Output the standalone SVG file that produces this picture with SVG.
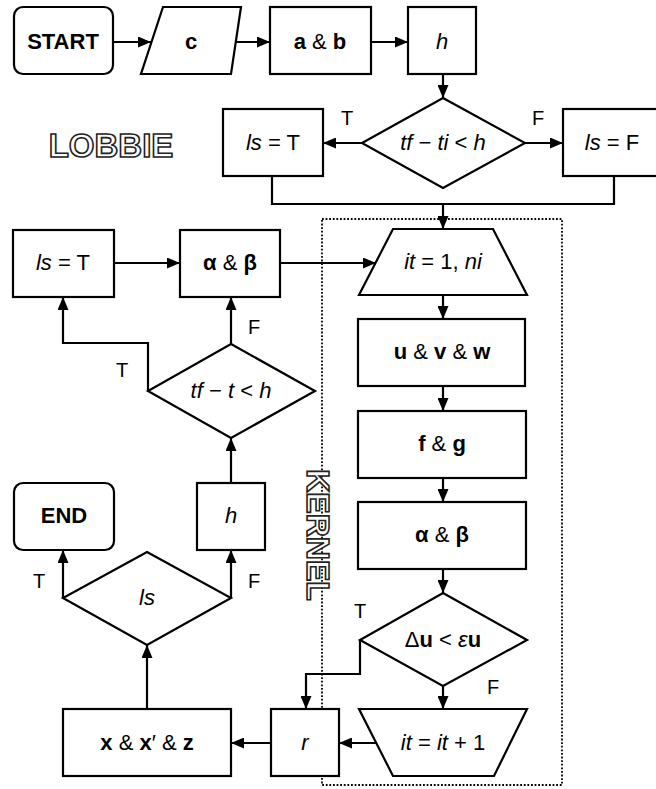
<svg xmlns="http://www.w3.org/2000/svg" width="656" height="789" viewBox="0 0 656 789">
<style>
.n{fill:#fff;stroke:#000;stroke-width:2.2}
.c{fill:none;stroke:#000;stroke-width:2.2}
.t{font-family:"Liberation Sans",Arial,sans-serif;font-size:22px;text-anchor:middle;fill:#000}
.b{font-weight:bold}
.i{font-style:italic}
.lbl{font-family:"Liberation Sans",Arial,sans-serif;font-size:20px;text-anchor:middle;fill:#000}
.out{font-family:"Liberation Sans",Arial,sans-serif;font-weight:bold;text-anchor:middle;fill:#fff;stroke:#222;stroke-width:1.6}
</style>
<defs>
<marker id="ah" markerUnits="userSpaceOnUse" markerWidth="13" markerHeight="11" refX="13" refY="5.5" orient="auto">
<path d="M0,0 L13,5.5 L0,11 z" fill="#000"/>
</marker>
</defs>
<rect x="0" y="0" width="656" height="789" fill="#fff"/>

<g id="kernel-region">
<rect x="322" y="219" width="240" height="566" fill="none" stroke="#000" stroke-width="1.8" stroke-dasharray="1.8 1.8"/>
</g>

<g id="connectors">
<line class="c" x1="113" y1="42" x2="151" y2="42" marker-end="url(#ah)"/>
<line class="c" x1="236" y1="42" x2="270" y2="42" marker-end="url(#ah)"/>
<line class="c" x1="371" y1="42" x2="408" y2="42" marker-end="url(#ah)"/>
<line class="c" x1="443" y1="74" x2="443" y2="98" marker-end="url(#ah)"/>
<line class="c" x1="362" y1="143" x2="323" y2="143" marker-end="url(#ah)"/>
<line class="c" x1="525" y1="143" x2="563" y2="143" marker-end="url(#ah)"/>
<polyline class="c" points="272,176 272,204 614,204 614,176"/>
<line class="c" x1="443" y1="204" x2="443" y2="229" marker-end="url(#ah)"/>
<line class="c" x1="114" y1="263" x2="180" y2="263" marker-end="url(#ah)"/>
<line class="c" x1="280" y1="263" x2="376" y2="263" marker-end="url(#ah)"/>
<line class="c" x1="443" y1="295" x2="443" y2="319" marker-end="url(#ah)"/>
<line class="c" x1="443" y1="386" x2="443" y2="411" marker-end="url(#ah)"/>
<line class="c" x1="443" y1="478" x2="443" y2="502" marker-end="url(#ah)"/>
<line class="c" x1="443" y1="569" x2="443" y2="593" marker-end="url(#ah)"/>
<line class="c" x1="443" y1="686" x2="443" y2="709" marker-end="url(#ah)"/>
<polyline class="c" points="360,640 360,674 306,674 306,709" marker-end="url(#ah)"/>
<line class="c" x1="376" y1="743" x2="339" y2="743" marker-end="url(#ah)"/>
<line class="c" x1="271" y1="743" x2="231" y2="743" marker-end="url(#ah)"/>
<line class="c" x1="147" y1="709" x2="147" y2="645" marker-end="url(#ah)"/>
<line class="c" x1="63" y1="598" x2="63" y2="550" marker-end="url(#ah)"/>
<line class="c" x1="231" y1="598" x2="231" y2="550" marker-end="url(#ah)"/>
<line class="c" x1="231" y1="483" x2="231" y2="438" marker-end="url(#ah)"/>
<line class="c" x1="231" y1="344" x2="231" y2="297" marker-end="url(#ah)"/>
<polyline class="c" points="148,391 148,343 63,343 63,297" marker-end="url(#ah)"/>
</g>

<g id="labels">
<text class="lbl" x="347" y="125">T</text>
<text class="lbl" x="538" y="125">F</text>
<text class="lbl" x="122" y="377">T</text>
<text class="lbl" x="254" y="334">F</text>
<text class="lbl" x="39" y="588">T</text>
<text class="lbl" x="254" y="588">F</text>
<text class="lbl" x="360" y="618">T</text>
<text class="lbl" x="493" y="694">F</text>
</g>

<g id="lobbie"><text class="out" x="111" y="157" font-size="33">LOBBIE</text></g>
<g id="kernel-title"><text class="out" font-size="32" transform="translate(307,535) rotate(90)">KERNEL</text></g>

<g id="start"><rect class="n" x="14" y="7" width="99" height="67" rx="9"/><text class="t b" x="63" y="49">START</text></g>
<g id="c"><polygon class="n" points="163,7 241,7 231,74 141,74"/><text class="t b" x="191" y="49">c</text></g>
<g id="ab"><rect class="n" x="270" y="7" width="101" height="67"/><text class="t" x="320" y="49"><tspan class="b">a</tspan> &amp; <tspan class="b">b</tspan></text></g>
<g id="h1"><rect class="n" x="408" y="7" width="68" height="67"/><text class="t i" x="442" y="49">h</text></g>
<g id="dec1"><polygon class="n" points="443,98 525,143 443,188 362,143"/><text class="t" x="443" y="150"><tspan class="i">tf</tspan> − <tspan class="i">ti</tspan> &lt; <tspan class="i">h</tspan></text></g>
<g id="lsT1"><rect class="n" x="223" y="109" width="100" height="67"/><text class="t" x="273" y="150"><tspan class="i">ls</tspan> = T</text></g>
<g id="lsF"><rect class="n" x="563" y="109" width="102" height="67"/><text class="t" x="612" y="150"><tspan class="i">ls</tspan> = F</text></g>

<g id="lsT2"><rect class="n" x="13" y="230" width="101" height="67"/><text class="t" x="63" y="270"><tspan class="i">ls</tspan> = T</text></g>
<g id="ab2"><rect class="n" x="180" y="230" width="100" height="67"/><text class="t b" x="230" y="270">α <tspan font-weight="normal">&amp;</tspan> β</text></g>
<g id="dec2"><polygon class="n" points="231,344 315,391 231,438 148,391"/><text class="t" x="231" y="398"><tspan class="i">tf</tspan> − <tspan class="i">t</tspan> &lt; <tspan class="i">h</tspan></text></g>
<g id="h2"><rect class="n" x="197" y="483" width="68" height="67"/><text class="t i" x="231" y="523">h</text></g>
<g id="end"><rect class="n" x="14" y="483" width="100" height="67" rx="9"/><text class="t b" x="64" y="523">END</text></g>
<g id="dec3"><polygon class="n" points="147,552 231,598 147,645 63,598"/><text class="t i" x="147" y="605">ls</text></g>
<g id="xxz"><rect class="n" x="63" y="709" width="168" height="67"/><text class="t" x="147" y="750"><tspan class="b">x</tspan> &amp; <tspan class="b">x</tspan>′ &amp; <tspan class="b">z</tspan></text></g>
<g id="r"><rect class="n" x="271" y="709" width="68" height="67"/><text class="t i" x="305" y="750">r</text></g>

<g id="loop"><polygon class="n" points="393,229 493,229 527,295 359,295"/><text class="t" x="443" y="269"><tspan class="i">it</tspan> = 1, <tspan class="i">ni</tspan></text></g>
<g id="uvw"><rect class="n" x="358" y="319" width="167" height="67"/><text class="t" x="442" y="359"><tspan class="b">u</tspan> &amp; <tspan class="b">v</tspan> &amp; <tspan class="b">w</tspan></text></g>
<g id="fg"><rect class="n" x="358" y="411" width="168" height="67"/><text class="t" x="442" y="451"><tspan class="b">f</tspan> &amp; <tspan class="b">g</tspan></text></g>
<g id="ab3"><rect class="n" x="358" y="502" width="168" height="67"/><text class="t b" x="442" y="542">α <tspan font-weight="normal">&amp;</tspan> β</text></g>
<g id="dec4"><polygon class="n" points="443,593 527,640 443,686 360,640"/><text class="t" x="443" y="647">Δ<tspan class="b">u</tspan> &lt; <tspan class="i">ε</tspan><tspan class="b">u</tspan></text></g>
<g id="loopend"><polygon class="n" points="359,709 527,709 494,776 393,776"/><text class="t" x="443" y="750"><tspan class="i">it</tspan> = <tspan class="i">it</tspan> + 1</text></g>
</svg>
